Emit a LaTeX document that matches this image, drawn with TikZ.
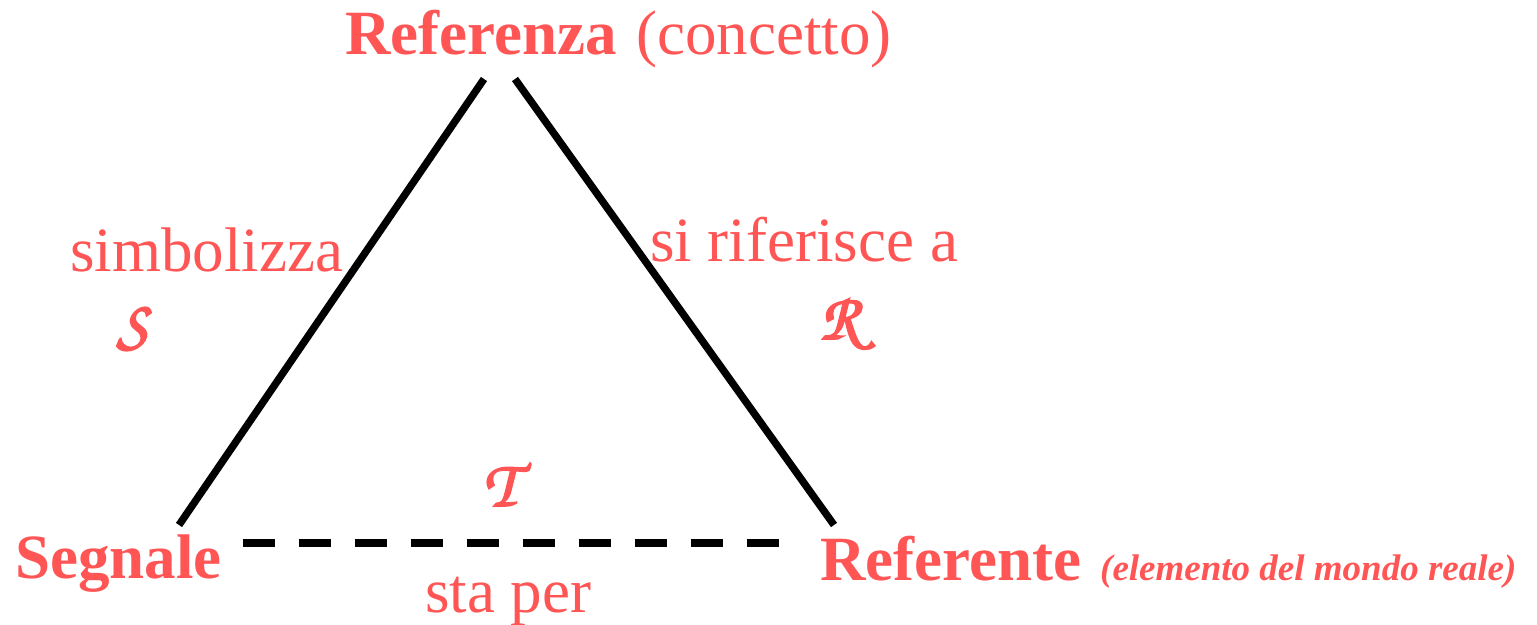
\documentclass[tikz,border=0pt]{standalone}
\usepackage{fontspec}
\setmainfont{Liberation Serif}
\definecolor{sal}{RGB}{255,85,85}
\newcommand{\chanc}[1]{{\usefont{OT1}{pzc}{mb}{it}\special{pdf:literal direct 2 Tr 1.8 w}#1\special{pdf:literal direct 0 Tr}}}
\begin{document}
\begin{tikzpicture}[x=1pt,y=-1pt,
  lbl/.style={text=sal, inner sep=0pt, anchor=base west, font=\fontsize{63}{70}\selectfont},
  blbl/.style={lbl, font=\fontsize{63}{70}\selectfont\bfseries},
  slbl/.style={text=sal, inner sep=0pt, anchor=base west, font=\fontsize{37}{44}\selectfont\bfseries\itshape},
  clbl/.style={text=sal, inner sep=0pt, anchor=base, font=\fontsize{66}{70}\selectfont},
  edge/.style={line width=7.4pt, black},
  dedge/.style={edge, dash pattern=on 32pt off 24pt}]
\useasboundingbox (0,0) rectangle (1537,624);
\node[blbl] (top) at (345,54) {Referenza};
\node[lbl] (topc) at (636,54) {(concetto)};
\node[blbl] (seg) at (15,578) {Segnale};
\node[blbl] (ref) at (820,580) {Referente};
\node[slbl] (refs) at (1100,580) {(elemento del mondo reale)};
\node[lbl] (simb) at (70,271) {simbolizza};
\node[clbl] (S) at (132,346) {\chanc{S}};
\node[lbl] (rif) at (650,261) {si riferisce a};
\node[clbl] (R) at (840,339) {\chanc{R}};
\node[clbl] (T) at (500,506) {\chanc{T}};
\node[lbl] (sta) at (425,612) {sta per};
\coordinate (a1) at (179,525);
\coordinate (a2) at (484,79);
\coordinate (b1) at (515,79);
\coordinate (b2) at (834,525);
\coordinate (c1) at (243,543);
\coordinate (c2) at (780,543);
\draw[edge] (a1) -- (a2);
\draw[edge] (b1) -- (b2);
\draw[dedge] (c1) -- (c2);
\end{tikzpicture}
\end{document}
